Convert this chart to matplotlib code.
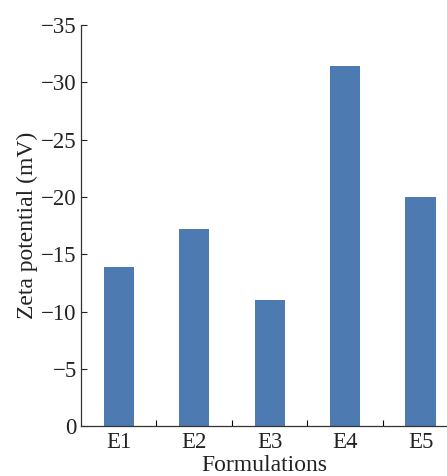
import matplotlib
matplotlib.use("Agg")
import matplotlib.pyplot as plt

formulations = ["E1", "E2", "E3", "E4", "E5"]
zeta = [-13.9, -17.2, -11.0, -31.4, -20.0]
y_ticks = [0, -5, -10, -15, -20, -25, -30, -35]

plt.rcParams["font.family"] = ["Liberation Serif", "DejaVu Serif"]
plt.rcParams["axes.unicode_minus"] = True

fig = plt.figure(figsize=(4.47, 4.76), dpi=100)
ax = fig.add_axes([0.181, 0.105, 0.819, 0.842])

pos = list(range(1, len(formulations) + 1))
ax.bar(pos, zeta, width=0.4, color="#4d7ab0")

ax.set_ylim(0, -35)
ax.set_xlim(0.5, 5.35)
ax.set_yticks(y_ticks)
ax.set_yticklabels([str(t).replace("-", "\u2212") for t in y_ticks])
ax.set_xticks(pos, formulations)
ax.set_xticks([1.5, 2.5, 3.5, 4.5], minor=True)

ax.tick_params(axis="both", which="major", labelsize=16.5, colors="#222222")
ax.tick_params(axis="y", direction="in", length=4, width=0.8, pad=3)
ax.tick_params(axis="x", which="major", length=0, pad=4)
ax.tick_params(axis="x", which="minor", direction="in", length=4, width=0.8)

for s in ["top", "right"]:
    ax.spines[s].set_visible(False)
for s in ["left", "bottom"]:
    ax.spines[s].set_linewidth(0.9)
    ax.spines[s].set_color("#333333")

ax.set_ylabel("Zeta potential (mV)", fontsize=17, color="#222222", labelpad=2)
ax.set_xlabel("Formulations", fontsize=17, color="#222222", labelpad=1.5)

fig.savefig("out.png", dpi=100)
